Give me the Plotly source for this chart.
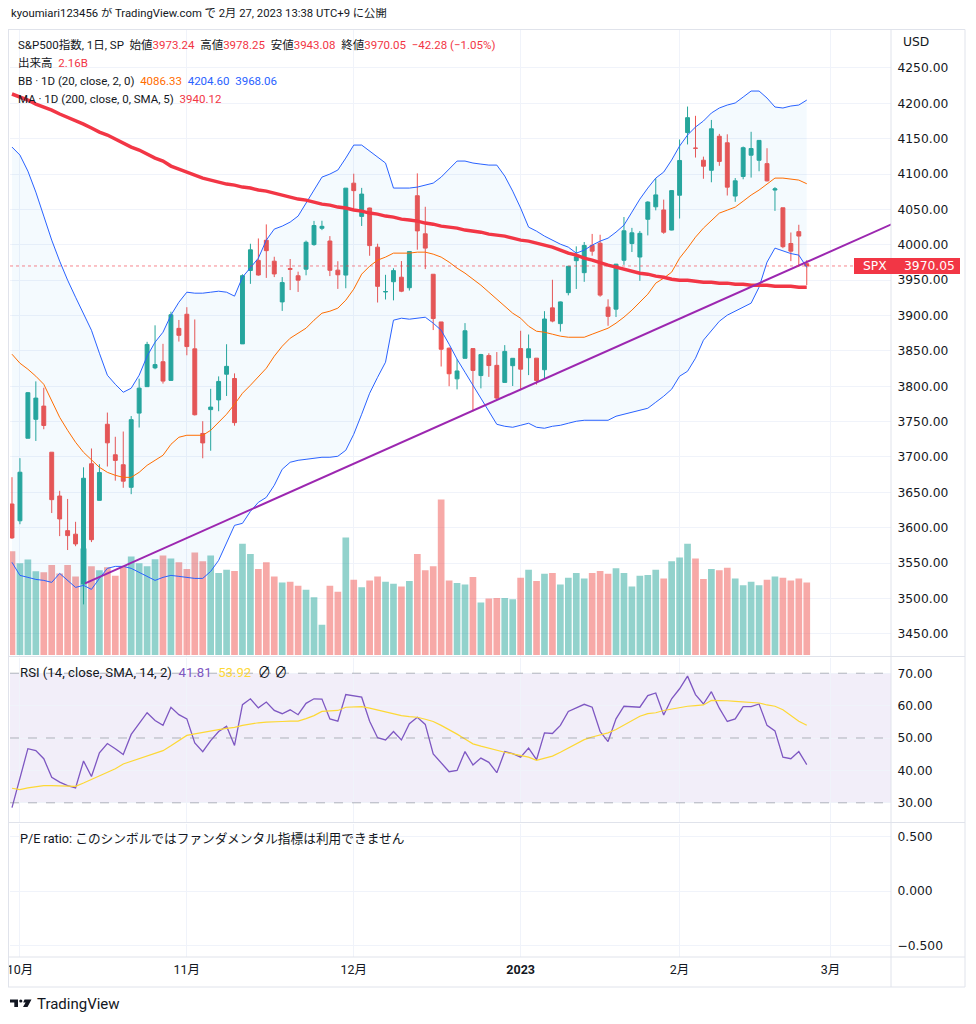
import plotly.graph_objects as go

# S&P500 daily, values
dates = [
    "2022-09-30",
    "2022-10-03", "2022-10-04", "2022-10-05", "2022-10-06", "2022-10-07", "2022-10-10", "2022-10-11",
    "2022-10-12", "2022-10-13", "2022-10-14", "2022-10-17", "2022-10-18", "2022-10-19", "2022-10-20",
    "2022-10-21", "2022-10-24", "2022-10-25", "2022-10-26", "2022-10-27", "2022-10-28", "2022-10-31",
    "2022-11-01", "2022-11-02", "2022-11-03", "2022-11-04", "2022-11-07", "2022-11-08", "2022-11-09",
    "2022-11-10", "2022-11-11", "2022-11-14", "2022-11-15", "2022-11-16", "2022-11-17", "2022-11-18",
    "2022-11-21", "2022-11-22", "2022-11-23", "2022-11-25", "2022-11-28", "2022-11-29", "2022-11-30",
    "2022-12-01", "2022-12-02", "2022-12-05", "2022-12-06", "2022-12-07", "2022-12-08", "2022-12-09",
    "2022-12-12", "2022-12-13", "2022-12-14", "2022-12-15", "2022-12-16", "2022-12-19", "2022-12-20",
    "2022-12-21", "2022-12-22", "2022-12-23", "2022-12-27", "2022-12-28", "2022-12-29", "2022-12-30",
    "2023-01-03", "2023-01-04", "2023-01-05", "2023-01-06", "2023-01-09", "2023-01-10", "2023-01-11",
    "2023-01-12", "2023-01-13", "2023-01-17", "2023-01-18", "2023-01-19", "2023-01-20", "2023-01-23",
    "2023-01-24", "2023-01-25", "2023-01-26", "2023-01-27", "2023-01-30", "2023-01-31",
    "2023-02-01", "2023-02-02", "2023-02-03", "2023-02-06", "2023-02-07", "2023-02-08", "2023-02-09",
    "2023-02-10", "2023-02-13", "2023-02-14", "2023-02-15", "2023-02-16", "2023-02-17", "2023-02-21",
    "2023-02-22", "2023-02-23", "2023-02-24",
]
# empty trading days to the right of the last bar
future_days = ["2023-02-27", "2023-02-28", "2023-03-01", "2023-03-02", "2023-03-03", "2023-03-06",
               "2023-03-07", "2023-03-08", "2023-03-09", "2023-03-10", "2023-03-13"]

opens = [
    3633.48, 3609.78, 3726.46, 3753.25, 3771.97, 3706.74, 3644.79, 3595.86, 3590.83, 3520.37,
    3690.41, 3638.65, 3746.26, 3703.11, 3689.05, 3657.10, 3762.01, 3799.44, 3825.97, 3834.69,
    3808.26, 3881.85, 3901.79, 3852.90, 3733.25, 3766.98, 3780.71, 3817.02, 3810.94, 3859.89,
    3963.72, 3977.97, 4006.41, 3976.82, 3919.26, 3966.39, 3956.23, 3965.51, 4000.30, 4023.34,
    4005.36, 3964.19, 3957.18, 4087.14, 4040.17, 4052.02, 3996.63, 3933.28, 3947.79, 3954.17,
    3939.29, 4069.38, 4015.54, 3958.37, 3890.91, 3853.79, 3810.47, 3839.49, 3853.26, 3815.11,
    3843.34, 3829.56, 3805.45, 3829.06, 3853.29, 3840.36, 3839.74, 3823.37, 3910.82, 3888.57,
    3932.35, 3977.57, 3960.60, 3999.28, 4002.25, 3911.84, 3909.04, 3978.14, 4001.74, 3982.71,
    4036.08, 4053.72, 4049.27, 4020.85, 4070.07, 4158.68, 4136.69, 4119.57, 4105.35, 4153.47,
    4144.25, 4068.92, 4096.62, 4126.70, 4119.50, 4114.75, 4077.39, 4052.35, 4001.83, 4018.60,
    3973.24,
]
highs = [
    3671.44, 3698.35, 3791.92, 3806.91, 3797.93, 3706.74, 3652.17, 3640.66, 3608.34, 3685.41,
    3712.00, 3689.73, 3762.79, 3728.58, 3736.00, 3757.89, 3810.74, 3862.85, 3886.15, 3859.95,
    3905.42, 3893.73, 3911.79, 3894.44, 3750.59, 3796.34, 3813.95, 3859.40, 3818.20, 3958.33,
    4001.48, 4008.97, 4028.84, 3983.09, 3954.33, 3979.89, 3962.00, 4005.88, 4033.78, 4034.02,
    4012.27, 3976.77, 4080.11, 4100.51, 4080.48, 4052.45, 4001.51, 3957.57, 3966.85, 3977.02,
    3990.71, 4100.96, 4053.76, 3958.37, 3890.91, 3854.86, 3838.24, 3889.28, 3853.26, 3845.80,
    3846.65, 3848.32, 3858.19, 3839.85, 3878.46, 3873.16, 3839.74, 3906.19, 3950.57, 3919.83,
    3970.07, 3997.76, 4003.95, 4015.39, 4014.16, 3922.94, 3972.96, 4039.31, 4023.92, 4019.55,
    4061.57, 4094.21, 4063.85, 4077.16, 4148.95, 4195.44, 4182.36, 4124.63, 4176.54, 4156.85,
    4156.23, 4094.36, 4138.90, 4159.77, 4148.11, 4136.54, 4081.51, 4052.35, 4017.37, 4028.30,
    3978.25,
]
lows = [
    3584.13, 3604.93, 3726.46, 3722.66, 3739.22, 3620.73, 3588.10, 3568.45, 3573.86, 3491.58,
    3579.68, 3638.65, 3686.53, 3666.51, 3656.44, 3647.42, 3741.65, 3799.44, 3824.07, 3803.79,
    3808.26, 3863.18, 3843.80, 3758.68, 3698.15, 3708.84, 3764.70, 3786.28, 3744.22, 3859.89,
    3944.82, 3956.40, 3953.17, 3954.34, 3906.54, 3935.98, 3933.34, 3956.88, 3998.66, 4020.76,
    3955.77, 3937.65, 3938.58, 4050.87, 4026.63, 3984.49, 3918.39, 3922.68, 3921.44, 3933.04,
    3935.30, 3993.03, 3965.65, 3879.45, 3827.91, 3800.04, 3795.62, 3839.49, 3764.49, 3797.01,
    3813.22, 3780.78, 3805.45, 3800.34, 3794.33, 3815.77, 3802.42, 3809.56, 3890.42, 3877.29,
    3928.54, 3937.56, 3947.67, 3984.57, 3926.59, 3885.54, 3897.86, 3971.64, 3989.79, 3949.06,
    4013.29, 4048.70, 4015.55, 4020.44, 4037.20, 4141.88, 4123.36, 4093.38, 4088.39, 4111.67,
    4069.67, 4060.79, 4092.67, 4095.01, 4103.98, 4089.49, 4047.95, 3995.19, 3976.90, 3969.19,
    3943.08,
]
closes = [
    3585.62, 3678.43, 3790.93, 3783.28, 3744.52, 3639.66, 3612.39, 3588.84, 3577.03, 3669.91,
    3583.07, 3677.95, 3719.98, 3695.16, 3665.78, 3752.75, 3797.34, 3859.11, 3830.60, 3807.30,
    3901.06, 3871.98, 3856.10, 3759.69, 3719.89, 3770.55, 3806.80, 3828.11, 3748.57, 3956.37,
    3992.93, 3957.25, 3991.73, 3958.79, 3946.56, 3965.34, 3949.94, 4003.58, 4027.26, 4026.12,
    3963.94, 3957.63, 4080.11, 4076.57, 4071.70, 3998.84, 3941.26, 3933.92, 3963.51, 3934.38,
    3990.56, 4019.65, 3995.32, 3895.75, 3852.36, 3817.66, 3821.62, 3878.44, 3822.39, 3844.82,
    3829.25, 3783.22, 3849.28, 3839.50, 3824.14, 3852.97, 3808.10, 3895.08, 3892.09, 3919.25,
    3969.61, 3983.17, 3999.09, 3990.97, 3928.86, 3898.85, 3972.61, 4019.81, 4016.95, 4016.22,
    4060.43, 4070.56, 4017.77, 4076.60, 4119.21, 4179.76, 4136.48, 4111.08, 4164.00, 4117.86,
    4081.50, 4090.46, 4137.29, 4136.13, 4147.60, 4090.41, 4079.09, 3997.34, 3991.05, 4012.32,
    3970.05,
]
# volume in billions
volume_b = [
    3.09, 2.73, 2.84, 2.49, 2.46, 2.68, 2.43, 2.68, 2.34, 3.17,
    2.64, 2.52, 2.61, 2.36, 2.64, 2.93, 2.73, 2.64, 2.85, 2.96,
    2.87, 2.76, 2.56, 3.05, 2.79, 2.96, 2.44, 2.54, 2.50, 3.31,
    3.01, 2.56, 2.76, 2.34, 2.16, 2.18, 2.06, 1.94, 1.72, 0.90,
    2.06, 1.88, 3.50, 2.24, 2.02, 2.22, 2.34, 2.18, 2.12, 2.04,
    2.20, 3.01, 2.52, 2.64, 4.63, 2.22, 2.14, 2.10, 2.32, 1.56,
    1.68, 1.70, 1.70, 1.66, 2.30, 2.54, 2.20, 2.42, 2.44, 2.10,
    2.30, 2.44, 2.28, 2.44, 2.50, 2.42, 2.58, 2.44, 2.04, 2.36,
    2.38, 2.54, 2.28, 2.79, 2.90, 3.31, 2.87, 2.26, 2.56, 2.52,
    2.60, 2.28, 2.08, 2.18, 2.08, 2.24, 2.34, 2.30, 2.22, 2.28,
    2.16,
]
bb_upper = [
    4138.2, 4126.9, 4104.2, 4074.5, 4040.6, 4006.6, 3976.9, 3950.0, 3925.9, 3903.3,
    3879.2, 3846.7, 3815.6, 3802.8, 3791.5, 3797.2, 3815.6, 3842.5, 3862.3, 3876.4,
    3900.5, 3918.8, 3933.0, 3931.6, 3931.6, 3933.0, 3934.4, 3933.0, 3927.4, 3954.2,
    3967.0, 3981.1, 4006.6, 4022.2, 4026.4, 4032.1, 4040.6, 4058.9, 4078.8, 4095.7,
    4100.0, 4105.7, 4122.6, 4141.0, 4141.0, 4132.5, 4124.1, 4115.6, 4080.2, 4080.2,
    4080.2, 4081.6, 4084.4, 4087.2, 4095.7, 4107.1, 4118.4, 4118.4, 4115.6, 4114.1,
    4112.7, 4112.7, 4097.2, 4075.9, 4051.9, 4025.0, 4019.3, 4012.3, 4006.6, 4000.9,
    3996.7, 3988.2, 3992.4, 3999.5, 4005.2, 4009.4, 4017.9, 4027.8, 4046.2, 4064.6,
    4080.2, 4094.3, 4102.8, 4119.8, 4139.6, 4155.2, 4166.5, 4175.0, 4186.3, 4193.4,
    4197.6, 4200.5, 4208.9, 4217.4, 4217.4, 4207.5, 4194.8, 4193.4, 4196.2, 4197.6,
    4204.6,
]
bb_basis = [
    3845.3, 3832.6, 3824.1, 3814.2, 3802.8, 3780.2, 3756.1, 3737.7, 3720.8, 3706.6,
    3695.3, 3685.4, 3678.3, 3674.1, 3671.2, 3671.2, 3678.3, 3688.2, 3695.3, 3702.4,
    3717.9, 3727.9, 3730.7, 3730.7, 3730.7, 3737.7, 3749.1, 3760.4, 3774.5, 3790.1,
    3801.4, 3812.7, 3825.5, 3842.5, 3856.6, 3867.9, 3875.0, 3882.1, 3893.4, 3903.3,
    3906.1, 3910.4, 3921.7, 3937.3, 3958.5, 3969.8, 3978.3, 3982.6, 3988.2, 3988.2,
    3988.2, 3989.6, 3989.6, 3986.8, 3982.6, 3975.5, 3967.0, 3959.9, 3951.4, 3942.9,
    3933.0, 3923.1, 3913.2, 3903.3, 3896.2, 3884.9, 3877.8, 3876.4, 3873.6, 3870.8,
    3869.3, 3869.3, 3869.3, 3873.6, 3877.8, 3882.1, 3889.2, 3897.7, 3907.6, 3918.9,
    3930.2, 3945.8, 3952.8, 3961.3, 3981.1, 3995.3, 4010.8, 4023.6, 4034.9, 4044.8,
    4049.0, 4053.3, 4061.7, 4070.3, 4077.4, 4085.8, 4094.3, 4094.3, 4092.9, 4091.5,
    4086.33,
]
bb_lower = [
    3551.0, 3532.6, 3529.8, 3526.9, 3525.5, 3522.7, 3535.4, 3525.5, 3515.6, 3518.4,
    3512.8, 3528.3, 3542.5, 3545.3, 3545.3, 3542.5, 3536.8, 3531.2, 3525.5, 3529.8,
    3532.6, 3531.2, 3529.8, 3528.3, 3528.3, 3538.2, 3553.8, 3577.8, 3603.3, 3606.2,
    3623.1, 3635.9, 3642.9, 3659.9, 3682.6, 3692.5, 3695.3, 3696.7, 3698.1, 3699.6,
    3699.6, 3701.0, 3709.5, 3732.1, 3760.4, 3790.1, 3812.7, 3834.0, 3893.4, 3896.2,
    3894.8, 3896.2, 3897.6, 3889.2, 3879.2, 3859.4, 3838.2, 3819.8, 3801.4, 3784.4,
    3766.1, 3746.2, 3743.4, 3742.0, 3744.8, 3747.7, 3742.0, 3740.6, 3743.4, 3744.8,
    3747.7, 3750.5, 3751.9, 3751.9, 3751.9, 3751.9, 3757.6, 3760.4, 3763.2, 3766.1,
    3768.9, 3777.4, 3785.9, 3795.8, 3814.2, 3821.2, 3839.6, 3865.1, 3879.2, 3891.9,
    3900.5, 3906.1, 3911.8, 3917.5, 3940.1, 3975.5, 3995.3, 3991.7, 3987.6, 3985.4,
    3968.06,
]
ma200 = [
    4213.2, 4208.9, 4204.7, 4199.0, 4194.8, 4190.5, 4184.9, 4180.6, 4175.0, 4170.7,
    4165.1, 4159.4, 4155.2, 4149.5, 4143.9, 4138.2, 4134.0, 4128.3, 4122.6, 4118.4,
    4111.3, 4107.1, 4102.8, 4098.6, 4094.3, 4091.5, 4088.7, 4085.8, 4084.4, 4081.6,
    4080.2, 4077.4, 4075.9, 4073.1, 4070.3, 4067.4, 4064.6, 4063.2, 4060.4, 4057.5,
    4056.1, 4053.3, 4051.9, 4049.1, 4047.6, 4044.8, 4043.4, 4040.6, 4039.1, 4036.3,
    4034.9, 4033.5, 4030.7, 4029.2, 4026.4, 4025.0, 4023.6, 4020.8, 4019.3, 4017.9,
    4015.1, 4013.7, 4012.3, 4009.4, 4006.6, 4005.2, 4002.4, 3999.5, 3996.7, 3992.5,
    3988.2, 3985.4, 3981.1, 3978.3, 3974.1, 3971.2, 3968.4, 3965.6, 3962.7, 3959.9,
    3958.5, 3955.7, 3954.2, 3951.4, 3950.0, 3950.0, 3948.6, 3947.2, 3947.2, 3945.8,
    3945.8, 3944.3, 3944.3, 3942.9, 3942.9, 3942.9, 3941.5, 3941.5, 3941.5, 3940.1,
    3940.12,
]
rsi = [
    28.5, 37.6, 46.7, 46.1, 43.6, 37.9, 36.4, 35.3, 34.6, 42.9,
    38.1, 45.4, 48.3, 46.7, 44.9, 51.1, 54.4, 57.8, 55.4, 53.9,
    59.5, 57.2, 55.9, 48.5, 45.8, 49.2, 52.0, 53.6, 47.7, 60.3,
    62.1, 59.3, 61.1, 58.5, 57.5, 58.7, 57.2, 60.7, 62.1, 62.0,
    55.9, 55.2, 63.4, 63.1, 62.6, 55.2, 50.1, 49.4, 52.0, 49.4,
    54.4, 56.4, 54.2, 45.1, 42.2, 39.6, 40.0, 45.8, 41.7, 43.8,
    42.5, 39.3, 45.8, 45.2, 44.1, 46.9, 43.3, 51.6, 51.4, 53.9,
    58.2, 59.2, 60.4, 59.5, 52.0, 48.9, 55.9, 59.8, 59.6, 59.5,
    63.1, 63.9, 57.1, 62.1, 65.2, 69.1, 63.4, 60.5, 64.3, 59.2,
    55.1, 55.9, 59.7, 59.7, 60.5, 53.9, 52.2, 44.1, 43.6, 45.8,
    41.81,
]
rsi_ma = [
    34.5, 34.1, 34.6, 34.9, 35.3, 35.3, 35.3, 35.2, 35.1, 36.1,
    37.2, 38.4, 39.5, 40.5, 42.0, 42.8, 43.5, 44.3, 45.2, 46.1,
    47.6, 49.2, 50.8, 51.3, 51.8, 52.2, 52.6, 53.0, 53.3, 53.9,
    54.4, 54.7, 54.9, 55.1, 55.1, 55.2, 55.2, 56.0, 56.9, 58.2,
    58.4, 58.5, 59.5, 59.6, 59.7, 59.2, 58.6, 58.0, 57.5, 56.9,
    56.6, 56.4, 55.8, 55.1, 53.9, 52.6, 51.2, 49.7, 48.2, 47.5,
    46.8, 46.1, 45.6, 45.1, 44.6, 44.1, 43.1, 43.8, 44.4, 45.6,
    46.9, 48.2, 49.5, 50.3, 51.0, 51.6, 52.6, 54.0, 55.4, 56.7,
    57.5, 57.8, 58.5, 59.0, 59.3, 59.8, 60.0, 60.2, 61.6, 61.6,
    61.5, 61.3, 61.2, 61.1, 60.8, 60.2, 59.8, 58.7, 56.9, 55.2,
    53.92,
]
# hand drawn trend line (bar index, price)
trend_bars = [9.2, 112.0]
trend_prices = [3521.3, 4035.7]

month_starts = ["2022-10-03", "2022-11-01", "2022-12-01", "2023-01-03", "2023-02-01", "2023-03-01"]
month_labels = ["10月", "11月", "12月", "<b>2023</b>", "2月", "3月"]
price_ticks = list(range(3450, 4300, 50))

last_price = 3970.05

# ---- layout helpers (screen pixels -> paper, page body has an 8px margin) ----
W, H = 960, 1008
OFF = 8
L, R, T, B = 2, 77, 22, 59
FONT = "Roboto, 'Noto Sans CJK JP', sans-serif"
AXFONT = "'DejaVu Sans', Roboto, sans-serif"
TXT = "#131722"
GRID = "#f0f3fa"
BORDER = "#e0e3eb"
UP, DOWN = "#26a69a", "#ef5350"
RED = "#f23645"


def px(x):
    return (x - OFF - L) / (W - L - R)


def py(y):
    return (H - B - (y - OFF)) / (H - T - B)


all_days = dates + future_days
bars = list(range(len(dates)))
tick_pos = [all_days.index(d) for d in month_starts]
vol_colors = ["rgba(38,166,154,0.5)" if c >= o else "rgba(239,83,80,0.5)" for o, c in zip(opens, closes)]

fig = go.Figure()

# volume underneath everything
fig.add_trace(go.Bar(x=bars, y=volume_b, marker=dict(color=vol_colors, line=dict(width=0)),
                     width=0.84, yaxis="y", hoverinfo="skip"))

fig.add_trace(go.Candlestick(
    x=bars, open=opens, high=highs, low=lows, close=closes, yaxis="y2",
    increasing=dict(line=dict(color=UP, width=1), fillcolor=UP),
    decreasing=dict(line=dict(color=DOWN, width=1), fillcolor=DOWN),
    whiskerwidth=0))

# bollinger bands
fig.add_trace(go.Scatter(x=bars, y=bb_upper, mode="lines", line=dict(color="#2962ff", width=1), yaxis="y2"))
fig.add_trace(go.Scatter(x=bars, y=bb_lower, mode="lines", line=dict(color="#2962ff", width=1), yaxis="y2",
                         fill="tonexty", fillcolor="rgba(33,150,243,0.05)"))
fig.add_trace(go.Scatter(x=bars, y=bb_basis, mode="lines", line=dict(color="#ff6d00", width=1), yaxis="y2"))
# 200 MA
fig.add_trace(go.Scatter(x=bars, y=ma200, mode="lines", line=dict(color=RED, width=3.5), yaxis="y2"))
# trend line
fig.add_trace(go.Scatter(x=trend_bars, y=trend_prices, mode="lines", line=dict(color="#9c27b0", width=2),
                         yaxis="y2"))

# RSI pane
fig.add_trace(go.Scatter(x=bars, y=rsi, mode="lines", line=dict(color="#7e57c2", width=1.3), yaxis="y3"))
fig.add_trace(go.Scatter(x=bars, y=rsi_ma, mode="lines", line=dict(color="#fdd835", width=1.2), yaxis="y3"))
# empty P/E pane
fig.add_trace(go.Scatter(x=[], y=[], mode="lines", yaxis="y4"))

tickfont = dict(size=12.3, color=TXT, family=AXFONT)
yright = dict(side="right", anchor="x", showgrid=True, gridcolor=GRID, zeroline=False, showline=False,
              ticks="outside", ticklen=3, tickcolor="rgba(0,0,0,0)", tickfont=tickfont, automargin=False,
              fixedrange=True)

fig.update_layout(
    template="none",
    width=W, height=H,
    margin=dict(l=L, r=R, t=T, b=B),
    paper_bgcolor="white", plot_bgcolor="white",
    showlegend=False,
    font=dict(family=FONT, size=12, color=TXT),
    xaxis=dict(domain=[0, 1], range=[-0.25, 110.6], anchor="y4", tickvals=tick_pos, ticktext=month_labels,
               showgrid=True, gridcolor=GRID, zeroline=False, showline=False, ticks="", tickangle=0,
               tickfont=dict(size=12.5, color=TXT, family=FONT), ticklabelstandoff=3, automargin=False,
               ticklabeloverflow="allow", rangeslider=dict(visible=False)),
    yaxis=dict(domain=[py(656.5), 1], range=[-0.045, 18.61], visible=False, fixedrange=True),
    yaxis2=dict(overlaying="y", range=[3417.9, 4303.7], tickvals=price_ticks, tickformat=".2f", **yright),
    yaxis3=dict(domain=[py(822.5), py(657.5)], range=[23.92, 74.85], tickvals=[30, 40, 50, 60, 70],
                ticktext=["30.00", "40.00", "50.00", "60.00", "70.00"], **yright),
    yaxis4=dict(domain=[0, py(823.5)], range=[-0.603, 0.6185], tickvals=[-0.5, 0, 0.5],
                ticktext=["−0.500", "0.000", "0.500"], **yright),
)

shapes = []
# RSI band and its dashed levels
shapes.append(dict(type="rect", xref="paper", yref="y3", x0=0, x1=1, y0=30, y1=70,
                   fillcolor="rgba(126,87,194,0.1)", line=dict(width=0), layer="below"))
for lvl in (30, 50, 70):
    shapes.append(dict(type="line", xref="paper", yref="y3", x0=0, x1=1, y0=lvl, y1=lvl,
                       line=dict(color="rgba(120,123,134,0.55)", width=1, dash="dash")))
# last price line
shapes.append(dict(type="line", xref="paper", yref="y2", x0=0, x1=1, y0=last_price, y1=last_price,
                   line=dict(color="rgba(242,54,69,0.6)", width=1, dash="dot")))
# pane borders
for yy in (29.5, 656.5, 822.5, 957, 987):
    shapes.append(dict(type="line", xref="paper", yref="paper", x0=px(8), x1=px(965), y0=py(yy), y1=py(yy),
                       line=dict(color=BORDER, width=1)))
for xx in (8.5, 891, 965):
    shapes.append(dict(type="line", xref="paper", yref="paper", x0=px(xx), x1=px(xx), y0=py(29.5), y1=py(987),
                       line=dict(color=BORDER, width=1)))
# SPX price tag
shapes.append(dict(type="rect", xref="paper", yref="paper", x0=px(854), x1=px(960), y0=py(274), y1=py(258),
                   fillcolor=RED, line=dict(width=0)))


# TradingView logo mark
def path(points):
    return "M" + " L".join(f"{px(a):.5f},{py(b):.5f}" for a, b in points) + " Z"


shapes.append(dict(type="path", xref="paper", yref="paper", fillcolor=TXT, line=dict(width=0),
                   path=path([(10, 999.5), (18, 999.5), (18, 1007), (14.3, 1007), (14.3, 1002.5), (10, 1002.5)])))
shapes.append(dict(type="circle", xref="paper", yref="paper", fillcolor=TXT, line=dict(width=0),
                   x0=px(19.2), x1=px(22.4), y0=py(1002.6), y1=py(999.4)))
shapes.append(dict(type="path", xref="paper", yref="paper", fillcolor=TXT, line=dict(width=0),
                   path=path([(24.5, 999.5), (31.5, 999.5), (27.5, 1007), (23, 1007), (25.6, 1002.5), (23.2, 1002.5)])))
fig.update_layout(shapes=shapes)


def note(text, x, y, size=13, color=TXT, xanchor="left", family=FONT):
    return dict(text=text, x=px(x), y=py(y), xref="paper", yref="paper", xanchor=xanchor, yanchor="middle",
                showarrow=False, font=dict(size=size, color=color, family=family))


def c(text, color):
    return f'<span style="color:{color}">{text}</span>'


sp = "&nbsp;&nbsp;"
header1 = ("S&amp;P500指数, 1日, SP" + sp + "始値" + c("3973.24", RED) + sp + "高値" + c("3978.25", RED) + sp
           + "安値" + c("3943.08", RED) + sp + "終値" + c("3970.05", RED) + sp + c("−42.28 (−1.05%)", RED))
header2 = "出来高" + sp + c("2.16B", RED)
header3 = "BB · 1D (20, close, 2, 0)" + sp + c("4086.33", "#ff6d00") + sp + c("4204.60", "#2962ff") + sp + c("3968.06", "#2962ff")
header4 = "MA · 1D (200, close, 0, SMA, 5)" + sp + c("3940.12", RED)
rsi_head = "RSI (14, close, SMA, 14, 2)" + sp + c("41.81", "#7e57c2") + sp + c("53.92", "#fdd835") + sp + "∅ ∅"

annotations = [
    note("kyoumiari123456 が TradingView.com で 2月 27, 2023 13:38 UTC+9 に公開", 9, 13, size=11.3),
    note(header1, 16, 45, size=11.5),
    note(header2, 16, 63, size=11.5),
    note(header3, 16, 81, size=11.5),
    note(header4, 16, 99, size=11.5),
    note("USD", 901, 42, size=12.3, family=AXFONT),
    note(rsi_head, 18, 672.5, size=13.2),
    note("P/E ratio: このシンボルではファンダメンタル指標は利用できません", 18, 838, size=12.7),
    note("SPX", 861, 266, size=12.3, color="white", family=AXFONT),
    note("3970.05", 957, 266, size=12.3, color="white", xanchor="right", family=AXFONT),
    note("TradingView", 35, 1004.5, size=15),
]
fig.update_layout(annotations=annotations)

fig.write_html("out.html")
